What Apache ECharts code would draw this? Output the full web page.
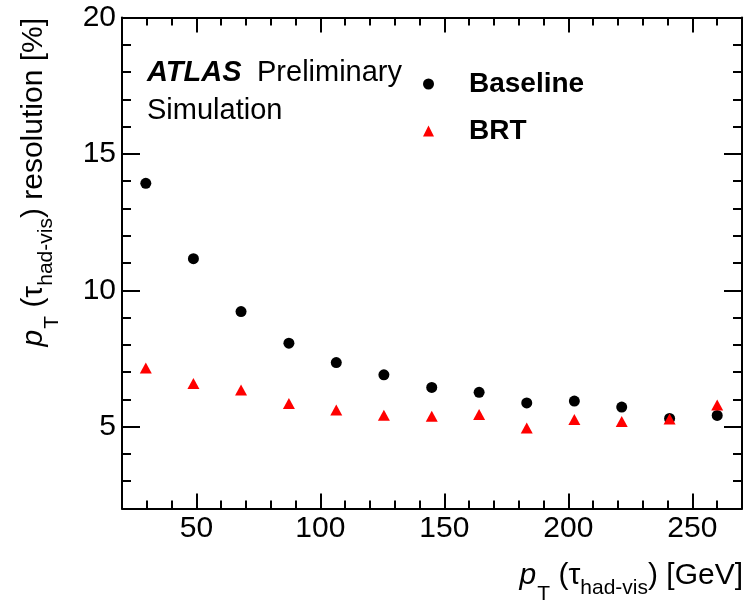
<!DOCTYPE html>
<html>
<head>
<meta charset="utf-8">
<script src="https://cdn.jsdelivr.net/npm/echarts@6/dist/echarts.min.js"></script>
<style>
  html, body { margin: 0; padding: 0; background: #ffffff; }
  #chart { width: 745px; height: 602px; }
</style>
</head>
<body>
<div id="chart"></div>
<script>
// Tau visible-pT bins (bin centres, GeV)
const ptBins = [29.6, 48.8, 68.0, 87.3, 106.4, 125.6, 144.9, 164.0, 183.2, 202.4, 221.5, 240.8, 260.0];
// pT resolution in percent
const baselineRes = [13.92, 11.16, 9.22, 8.06, 7.35, 6.90, 6.44, 6.26, 5.87, 5.94, 5.72, 5.30, 5.41];
const brtRes      = [7.15, 6.58, 6.34, 5.85, 5.61, 5.42, 5.38, 5.45, 4.95, 5.26, 5.19, 5.28, 5.79];
// Labelled (major) ticks
const xMajorTicks = [50, 100, 150, 200, 250];
const yMajorTicks = [5, 10, 15, 20];

const X_MIN = 20, X_MAX = 270, X_MINOR = 10;
const Y_MIN = 2, Y_MAX = 20, Y_MINOR = 1;

const FONT = '"Liberation Sans", Arial, Helvetica, sans-serif';
const BLACK = '#000000';
const axisLine = { show: true, onZero: false, lineStyle: { color: BLACK, width: 2 } };

function pairs(xs, ys) { return xs.map((x, i) => [x, ys[i]]); }

// One axis carries the frame line, the short ticks and (optionally) the labels;
// a twin axis at the same side carries only the long ticks.
function minorAxis(position, min, max, interval, tickLen, labels, majors) {
  return {
    type: 'value', position, min, max, interval, offset: 0,
    axisLine,
    axisTick: { show: true, inside: true, length: tickLen, lineStyle: { color: BLACK, width: 2 } },
    axisLabel: labels ? {
      show: true, color: BLACK, fontFamily: FONT, fontSize: 30, margin: position === 'bottom' ? 5 : 6,
      formatter: v => (majors.indexOf(v) >= 0 ? String(v) : '')
    } : { show: false },
    splitLine: { show: false }
  };
}
function majorAxis(position, min, max, interval, tickLen, majors) {
  return {
    type: 'value', position, min, max, interval, offset: 0,
    axisLine: { show: false, onZero: false },
    axisTick: { show: true, inside: true, length: tickLen, customValues: majors, lineStyle: { color: BLACK, width: 2 } },
    axisLabel: { show: false },
    splitLine: { show: false }
  };
}

// Axis title rich-text styles (ROOT-like subscripts)
const titleRich = {
  pi:   { fontFamily: FONT, fontSize: 30, fontStyle: 'italic', color: BLACK, verticalAlign: 'middle' },
  n:    { fontFamily: FONT, fontSize: 30, color: BLACK, verticalAlign: 'middle' },
  subT: { fontFamily: FONT, fontSize: 21, color: BLACK, verticalAlign: 'middle', padding: [36, 0, 0, 1] },
  sub:  { fontFamily: FONT, fontSize: 21, color: BLACK, verticalAlign: 'middle', padding: [24, 0, 0, 0] }
};

const chart = echarts.init(document.getElementById('chart'), null, { renderer: 'canvas' });

chart.setOption({
  animation: false,
  backgroundColor: '#ffffff',
  grid: { left: 122, top: 17.5, width: 621, height: 491, containLabel: false },
  xAxis: [
    minorAxis('bottom', X_MIN, X_MAX, X_MINOR, 8, true, xMajorTicks),
    majorAxis('bottom', X_MIN, X_MAX, X_MINOR, 15, xMajorTicks),
    minorAxis('top', X_MIN, X_MAX, X_MINOR, 8, false, xMajorTicks),
    majorAxis('top', X_MIN, X_MAX, X_MINOR, 15, xMajorTicks)
  ],
  yAxis: [
    minorAxis('left', Y_MIN, Y_MAX, Y_MINOR, 9, true, yMajorTicks),
    majorAxis('left', Y_MIN, Y_MAX, Y_MINOR, 18, yMajorTicks),
    minorAxis('right', Y_MIN, Y_MAX, Y_MINOR, 9, false, yMajorTicks),
    majorAxis('right', Y_MIN, Y_MAX, Y_MINOR, 18, yMajorTicks)
  ],
  legend: {
    orient: 'vertical', left: 418, top: 65,
    itemWidth: 11, itemHeight: 11, itemGap: 19,
    selectedMode: false,
    data: [{ name: 'Baseline', icon: 'circle' }, { name: 'BRT', icon: 'triangle' }],
    textStyle: { fontFamily: FONT, fontSize: 28, fontWeight: 'bold', color: BLACK, padding: [0, 0, 0, 30] }
  },
  series: [
    {
      name: 'Baseline', type: 'scatter', xAxisIndex: 0, yAxisIndex: 0,
      symbol: 'circle', symbolSize: 11,
      itemStyle: { color: BLACK, opacity: 1 },
      data: pairs(ptBins, baselineRes)
    },
    {
      name: 'BRT', type: 'scatter', xAxisIndex: 0, yAxisIndex: 0,
      symbol: 'triangle', symbolSize: [12, 11],
      itemStyle: { color: '#ff0000', opacity: 1 },
      data: pairs(ptBins, brtRes)
    }
  ],
  graphic: [
    { type: 'text', x: 147, y: 73,
      style: { text: 'ATLAS', fill: BLACK, fontFamily: FONT, fontSize: 29, fontWeight: 'bold', fontStyle: 'italic', align: 'left', verticalAlign: 'middle' } },
    { type: 'text', x: 257, y: 73,
      style: { text: 'Preliminary', fill: BLACK, fontFamily: FONT, fontSize: 29, align: 'left', verticalAlign: 'middle' } },
    { type: 'text', x: 147, y: 111,
      style: { text: 'Simulation', fill: BLACK, fontFamily: FONT, fontSize: 29, align: 'left', verticalAlign: 'middle' } },
    // x-axis title
    { type: 'text', x: 743, y: 576,
      style: { text: '{pi|p}{subT|T}{n| (τ}{sub|had-vis}{n|) [GeV]}', rich: titleRich,
               fill: BLACK, fontFamily: FONT, fontSize: 30, align: 'right', verticalAlign: 'middle' } },
    // y-axis title
    { type: 'text', x: 34, y: 18, rotation: Math.PI / 2,
      style: { text: '{pi|p}{subT|T}{n| (τ}{sub|had-vis}{n|) resolution [%]}', rich: titleRich,
               fill: BLACK, fontFamily: FONT, fontSize: 30, align: 'right', verticalAlign: 'middle' } }
  ]
});
</script>
</body>
</html>
